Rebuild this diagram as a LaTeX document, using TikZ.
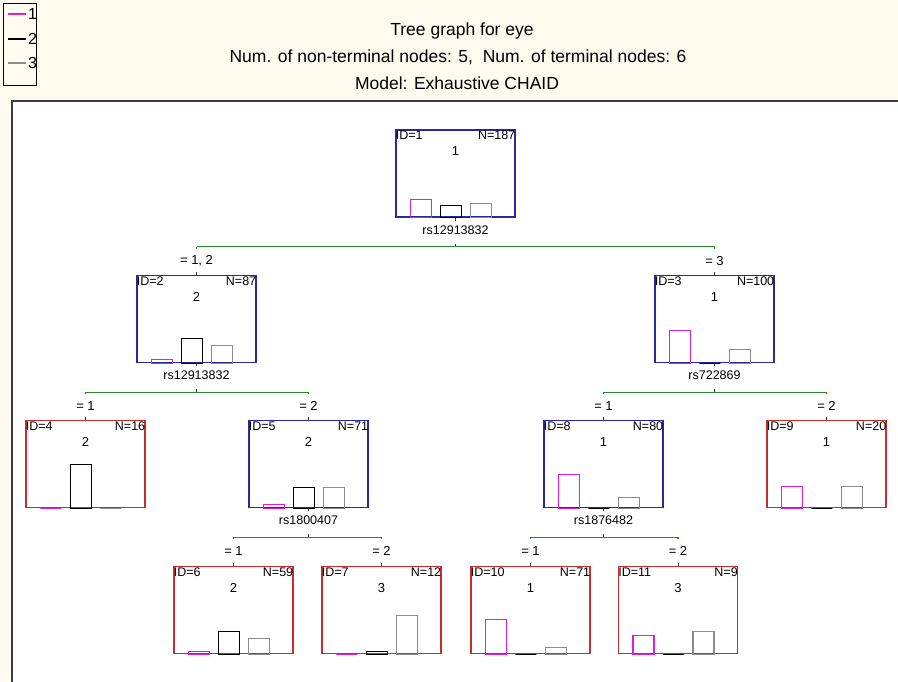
\documentclass[tikz,border=0pt]{standalone}
\usepackage{fontspec}
\setmainfont{Liberation Sans}
\usetikzlibrary{calc}
\definecolor{paper}{RGB}{255,250,238}
\definecolor{frame}{RGB}{60,60,60}
\definecolor{ntblue}{RGB}{40,40,160}
\definecolor{tred}{RGB}{200,45,45}
\definecolor{grn}{RGB}{40,140,40}
\definecolor{mbar}{RGB}{220,30,220}
\definecolor{gbar}{RGB}{140,140,140}
\tikzset{
  box/.style={line width=1.4pt, minimum width=119pt, minimum height=87pt, inner sep=0pt, fill=white},
  nt/.style={box, draw=ntblue},
  tm/.style={box, draw=tred},
  idtxt/.style={anchor=north west, inner sep=0pt, font=\fontsize{12.5}{13}\selectfont},
  ntxt/.style={anchor=north east, inner sep=0pt, font=\fontsize{12.5}{13}\selectfont},
  cls/.style={inner sep=0pt, font=\fontsize{13}{14}\selectfont},
  splitlbl/.style={inner sep=0pt, font=\fontsize{12.5}{13}\selectfont},
  cond/.style={inner sep=0pt, font=\fontsize{13}{14}\selectfont},
  branch/.style={draw=grn, line width=1.3pt},
  tick/.style={draw=black!80, line width=1pt},
  barm/.style={draw=mbar, line width=1.4pt},
  barb/.style={draw=black, line width=1.4pt},
  barg/.style={draw=gbar, line width=1.4pt},
  title/.style={inner sep=0pt, font=\fontsize{17.5}{19}\selectfont},
  legtxt/.style={anchor=west, inner sep=0pt, font=\fontsize{16}{17}\selectfont},
}
\newcommand\nodebars[4]{%
  \draw[barm] ($(#1.south west)+(15,0)$) rectangle ++(21,-#2);
  \draw[barb] ($(#1.south west)+(45,0)$) rectangle ++(21,-#3);
  \draw[barg] ($(#1.south west)+(75,0)$) rectangle ++(21,-#4);}
\newcommand\nodetext[4]{%
  \node[idtxt] (#1id) at ($(#1.north west)+(0.3,1.5)$) {ID=#2};
  \node[ntxt] (#1n) at ($(#1.north east)+(-0.3,1.5)$) {N=#3};
  \node[cls] (#1c) at ($(#1.north)+(0,22)$) {#4};}
% parent, variable, left child, right child, left cond, right cond
\newcommand\split[6]{%
  \node[splitlbl] (#1var) at ($(#1.south)+(0,12)$) {#2};
  \coordinate (#1g) at ($(#1.south)+(0,29)$);
  \draw[tick] (#1.south) -- ++(0,3);
  \draw[tick] (#1g) -- ++(0,-3);
  \draw[branch] (#3.north |- #1g) -- (#4.north |- #1g);
  \draw[branch] (#3.north |- #1g) -- ++(0,2);
  \draw[branch] (#4.north |- #1g) -- ++(0,2);
  \node[cond] (#3cond) at ($(#3.north |- #1g)+(0,14)$) {#5};
  \node[cond] (#4cond) at ($(#4.north |- #1g)+(0,14)$) {#6};
  \draw[tick] (#3.north) -- ++(0,-3);
  \draw[tick] (#4.north) -- ++(0,-3);}
\begin{document}
\begin{tikzpicture}[x=1pt,y=-1pt]
\useasboundingbox (0,0) rectangle (898,681);
\clip (0,0) rectangle (898,681);
\fill[paper] (0,0) rectangle (898,681);
\draw[frame, line width=1.8pt, fill=white] (12,101) rectangle (910,700);
% legend
\draw[black, line width=0.9pt, fill=paper] (3,3) rectangle (36,85);
\coordinate (lg1) at (8,14);
\coordinate (lg2) at (8,39);
\coordinate (lg3) at (8,63);
\draw[mbar, line width=1.3pt] (lg1) -- ++(18,0) node[legtxt, black, xshift=1.5pt] (lt1) {1};
\draw[black, line width=1.3pt] (lg2) -- ++(18,0) node[legtxt, black, xshift=1.5pt] (lt2) {2};
\draw[gbar, line width=1.3pt] (lg3) -- ++(18,0) node[legtxt, black, xshift=1.5pt] (lt3) {3};
% title
\node[title] (t1) at (462,31) {Tree graph for eye};
\node[title] (t2) at (458,57) {Num. of non-terminal nodes: 5,\ \ Num. of terminal nodes: 6};
\node[title] (t3) at (457,83) {Model: Exhaustive CHAID};
% nodes
\node[nt] (n1) at (455.5,173.5) {};
\node[nt] (n2) at (196.5,319) {};
\node[nt] (n3) at (714.5,319) {};
\node[tm] (n4) at (85.5,464) {};
\node[nt] (n5) at (308.5,464) {};
\node[nt] (n8) at (603.5,464) {};
\node[tm] (n9) at (826.5,464) {};
\node[tm] (n6) at (233.5,610) {};
\node[tm] (n7) at (381.5,610) {};
\node[tm] (n10) at (530.5,610) {};
\node[tm] (n11) at (678,610) {};
\nodetext{n1}{1}{187}{1}
\nodetext{n2}{2}{87}{2}
\nodetext{n3}{3}{100}{1}
\nodetext{n4}{4}{16}{2}
\nodetext{n5}{5}{71}{2}
\nodetext{n8}{8}{80}{1}
\nodetext{n9}{9}{20}{1}
\nodetext{n6}{6}{59}{2}
\nodetext{n7}{7}{12}{3}
\nodetext{n10}{10}{71}{1}
\nodetext{n11}{11}{9}{3}
\nodebars{n1}{18}{12}{14}
\nodebars{n2}{4}{25}{18}
\nodebars{n3}{33}{0}{14}
\nodebars{n4}{0}{44}{0}
\nodebars{n5}{4}{21}{21}
\nodebars{n8}{34}{0}{11}
\nodebars{n9}{22}{0}{22}
\nodebars{n6}{3}{23}{16}
\nodebars{n7}{0}{3}{39}
\nodebars{n10}{35}{0}{7}
\nodebars{n11}{19}{0}{23}
% splits
\split{n1}{rs12913832}{n2}{n3}{= 1, 2}{= 3}
\split{n2}{rs12913832}{n4}{n5}{= 1}{= 2}
\split{n3}{rs722869}{n8}{n9}{= 1}{= 2}
\split{n5}{rs1800407}{n6}{n7}{= 1}{= 2}
\split{n8}{rs1876482}{n10}{n11}{= 1}{= 2}
\end{tikzpicture}
\end{document}
